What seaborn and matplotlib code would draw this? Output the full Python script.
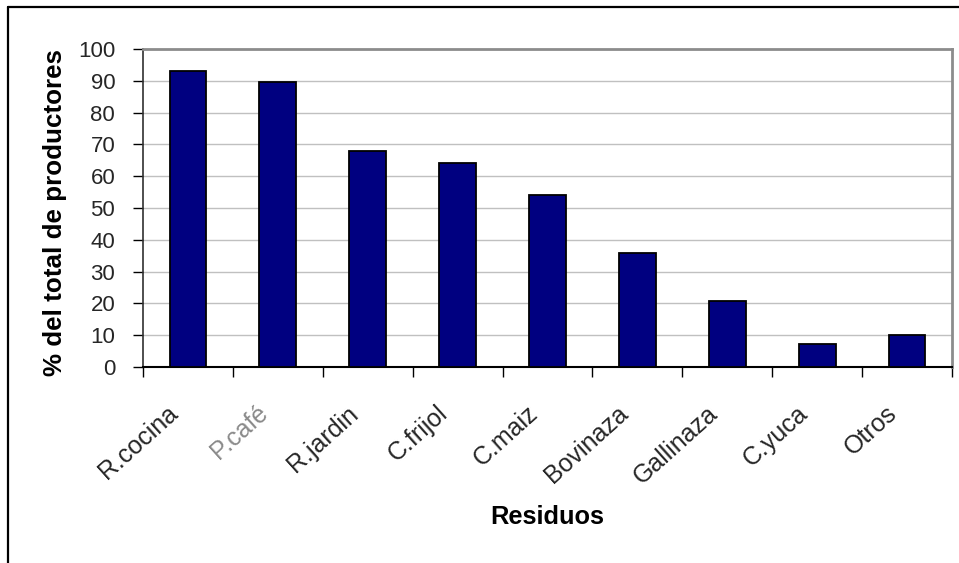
import matplotlib
matplotlib.use("Agg")
import matplotlib.pyplot as plt
import matplotlib.transforms as mtransforms
from matplotlib.lines import Line2D
import seaborn as sns
import pandas as pd

# Residue types and share of producers that use each one (%)
residuos = ["R.cocina", "P.café", "R.jardin", "C.frijol", "C.maiz",
            "Bovinaza", "Gallinaza", "C.yuca", "Otros"]
porcentaje = [93, 89.5, 68, 64.3, 54.2, 36, 20.9, 7.1, 10.2]
yticks = [0, 10, 20, 30, 40, 50, 60, 70, 80, 90, 100]

df = pd.DataFrame({"Residuos": residuos, "pct": porcentaje})

sns.set_theme(style="white")
plt.rcParams["font.family"] = ["Liberation Sans", "DejaVu Sans"]

fig = plt.figure(figsize=(9.59, 5.63), dpi=100)
ax = fig.add_axes([143 / 959, 1 - 367 / 563, (952 - 143) / 959, (367 - 49) / 563])

sns.barplot(data=df, x="Residuos", y="pct", color="#000080", saturation=1,
            width=0.41, edgecolor="black", linewidth=1.3, ax=ax, zorder=3)

ax.set_xlim(-0.5, len(residuos) - 0.5)
ax.set_ylim(0, 100)
ax.set_yticks(yticks)
ax.set_yticklabels([str(v) for v in yticks], fontsize=16)
ax.yaxis.grid(True, color="#c0c0c0", linewidth=1.0, zorder=0)
ax.set_axisbelow(True)

# Category boundaries carry the tick marks; names sit on minor ticks
ax.set_xticks([i - 0.5 for i in range(len(residuos) + 1)])
ax.set_xticklabels([])
ax.set_xticks(range(len(residuos)), minor=True)
ax.set_xticklabels(residuos, minor=True, fontsize=18, rotation=42,
                   ha="right", va="center", rotation_mode="anchor")
ax.tick_params(axis="x", which="minor", length=0, pad=31)
ax.tick_params(axis="x", which="major", direction="out", length=7,
               width=1.0, color="black", bottom=True)
ax.tick_params(axis="y", direction="out", length=7, width=1.0,
               color="black", left=True, pad=13)

shift = mtransforms.ScaledTranslation(-13 / 100, 0, fig.dpi_scale_trans)
for lbl in ax.get_xticklabels(minor=True):
    lbl.set_transform(lbl.get_transform() + shift)
    if lbl.get_text() == "P.café":
        lbl.set_color("#8a8a8a")

for side in ["top", "right"]:
    ax.spines[side].set_color("#8c8c8c")
    ax.spines[side].set_linewidth(2.0)
ax.spines["left"].set_color("#303030")
ax.spines["left"].set_linewidth(1.2)
ax.spines["bottom"].set_color("black")
ax.spines["bottom"].set_linewidth(1.5)

ax.set_xlabel("Residuos", fontsize=18.3, fontweight="bold", color="black")
ax.xaxis.set_label_coords(0.5, -(517 - 367) / (367 - 49), transform=ax.transAxes)
ax.xaxis.label.set_va("center")
ax.set_ylabel("% del total de productores", fontsize=18.7, fontweight="bold",
              color="black")
ax.yaxis.set_label_coords(-(143 - 55) / (952 - 143), (367 - 213) / (367 - 49))
ax.yaxis.label.set_va("center")

# Outer chart border (left and top edges)
fig.add_artist(Line2D([8 / 959, 8 / 959], [0, 1 - 7 / 563],
                      transform=fig.transFigure, color="black", linewidth=1.6))
fig.add_artist(Line2D([8 / 959, 1], [1 - 7 / 563, 1 - 7 / 563],
                      transform=fig.transFigure, color="black", linewidth=1.6))

fig.savefig("out.png", dpi=100)
